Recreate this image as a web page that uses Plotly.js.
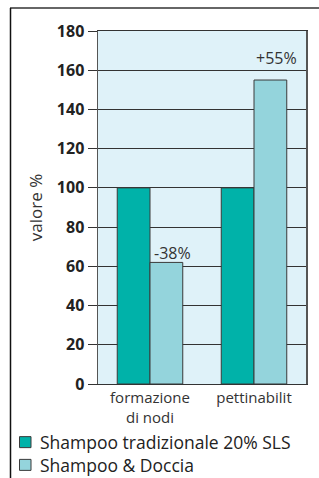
<!DOCTYPE html>
<html>
<head>
<meta charset="utf-8">
<script src="https://cdn.plot.ly/plotly-3.0.1.min.js"></script>
<style>html,body{margin:0;padding:0;background:#fff;}#chart{width:319px;height:478px;}</style>
</head>
<body>
<div id="chart"></div>
<script>
var categories = ['formazione<br>di nodi', 'pettinabilit'];
var seriesNames = ['Shampoo tradizionale 20% SLS', 'Shampoo & Doccia'];
var traditional = [100, 100];
var showerShampoo = [62, 155];
var changeLabels = ['-38%', '+55%'];
var yTicks = [0, 20, 40, 60, 80, 100, 120, 140, 160, 180];

var W = 319, H = 478;
var L = 98, R = 13, T = 31, B = 94;
var pw = W - L - R, ph = H - T - B;
function px(x) { return (x - L) / pw; }
function py(y) { return (H - B - y) / ph; }

var font = 'Open Sans, Noto Sans, sans-serif';
var colors = ['#00b2a9', '#94d4dc'];
var edge = '#3a3a3a';

var data = [
  {type: 'bar', name: seriesNames[0], x: categories, y: traditional,
   marker: {color: colors[0], line: {color: edge, width: 1}}},
  {type: 'bar', name: seriesNames[1], x: categories, y: showerShampoo,
   marker: {color: colors[1], line: {color: edge, width: 1}}}
];

var annXShift = [22, 22];
var annYShift = [9, 22];
var annotations = changeLabels.map(function (t, i) {
  return {x: i, y: showerShampoo[i], xref: 'x', yref: 'y', text: t, showarrow: false,
    xshift: annXShift[i], yshift: annYShift[i],
    font: {family: font, size: 16, color: '#333'}};
});

var shapes = [
  {type: 'line', xref: 'paper', yref: 'paper', x0: px(10), x1: px(319), y0: py(8), y1: py(8),
    line: {color: '#666', width: 2}},
  {type: 'line', xref: 'paper', yref: 'paper', x0: px(10.5), x1: px(10.5), y0: py(8), y1: py(478),
    line: {color: '#111', width: 1.5}}
];

// custom legend (swatches + one multi-line text) built from series names/colours
var legendFont = 17.5;
var lineH = legendFont * 1.3;
var legendCenter = 453;
seriesNames.forEach(function (name, i) {
  var cy = legendCenter + (i - (seriesNames.length - 1) / 2) * lineH + 0.5;
  shapes.push({type: 'rect', xref: 'paper', yref: 'paper',
    x0: px(19.5), x1: px(31), y0: py(cy - 5.5), y1: py(cy + 5.5),
    fillcolor: colors[i], line: {color: edge, width: 1}});
});
annotations.push({xref: 'paper', yref: 'paper', x: px(38), y: py(legendCenter),
  xanchor: 'left', yanchor: 'middle', align: 'left',
  text: seriesNames.join('<br>'), showarrow: false,
  font: {family: font, size: legendFont, color: '#222'}});

var layout = {
  width: W, height: H,
  margin: {l: L, r: R, t: T, b: B, pad: 0, autoexpand: false},
  paper_bgcolor: '#ffffff',
  plot_bgcolor: '#dff2f9',
  barmode: 'group',
  bargap: 0.37,
  bargroupgap: 0,
  showlegend: false,
  xaxis: {type: 'category', showgrid: false, ticks: '', showline: true, mirror: true,
    linecolor: '#333', linewidth: 1,
    tickfont: {family: font, size: 15, color: '#333'}, fixedrange: true},
  yaxis: {range: [0, 180], tickvals: yTicks, ticktext: yTicks.map(String),
    showgrid: true, gridcolor: '#333', gridwidth: 1, zeroline: false,
    showline: true, mirror: true, linecolor: '#555', linewidth: 1.5,
    ticks: 'outside', ticklen: 9, tickcolor: '#333', tickwidth: 1,
    tickfont: {family: font, size: 16, color: '#222', weight: 'bold'},
    title: {text: 'valore %', font: {family: font, size: 17, color: '#333'}, standoff: 10},
    fixedrange: true},
  annotations: annotations,
  shapes: shapes
};

Plotly.newPlot('chart', data, layout, {displayModeBar: false, staticPlot: true});
</script>
</body>
</html>
